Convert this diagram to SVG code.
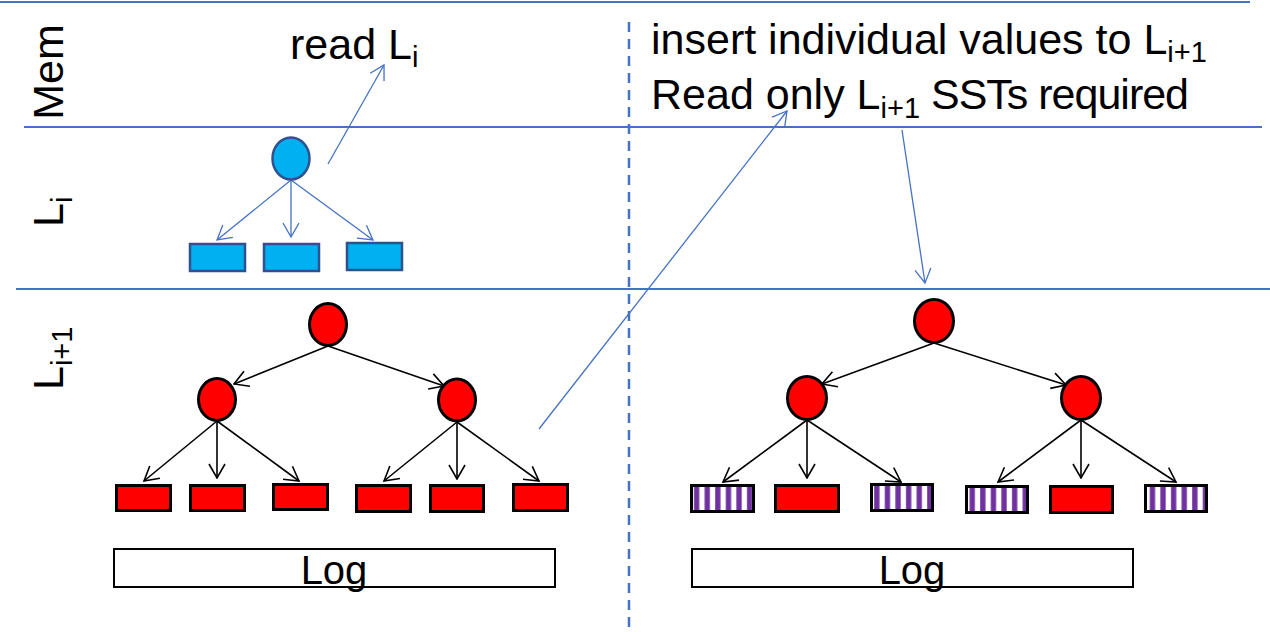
<svg xmlns="http://www.w3.org/2000/svg" width="1270" height="632" viewBox="0 0 1270 632">
  <style>
    .sep { stroke: #4472C4; stroke-width: 2.2; fill: none; }
    .dash { stroke: #4472C4; stroke-width: 2.5; stroke-dasharray: 10 7; fill: none; }
    .lbl { font-family: "Liberation Sans", Arial, sans-serif; font-size: 43px; fill: #000; }
    .txt { font-family: "Liberation Sans", Arial, sans-serif; font-size: 43px; fill: #000; }
    .log { font-family: "Liberation Sans", Arial, sans-serif; font-size: 40px; fill: #000; text-anchor: middle; }
    .blueNode { fill: #00B0F0; stroke: #2F528F; stroke-width: 2.5; }
    .redNode { fill: #FF0000; stroke: #000; stroke-width: 3; }
    .stripeNode { fill: url(#stripes); stroke: #000; stroke-width: 3; }
    .logBox { fill: #fff; stroke: #000; stroke-width: 2; }
    .blueArrow { stroke: #4472C4; stroke-width: 1.3; fill: none; marker-end: url(#headBlue); }
    .blackArrow { stroke: #000; stroke-width: 1.6; fill: none; marker-end: url(#headBlack); }
  </style>
  <defs>
    <marker id="headBlue" viewBox="0 0 16 18" refX="15" refY="9" markerWidth="16" markerHeight="18" markerUnits="userSpaceOnUse" orient="auto">
      <path d="M1,1 L15,9 L1,17" fill="none" stroke="#4472C4" stroke-width="1.3"/>
    </marker>
    <marker id="headBlack" viewBox="0 0 16 18" refX="15" refY="9" markerWidth="16" markerHeight="18" markerUnits="userSpaceOnUse" orient="auto">
      <path d="M1,1 L15,9 L1,17" fill="none" stroke="#000" stroke-width="1.6"/>
    </marker>
    <pattern id="stripes" patternUnits="userSpaceOnUse" width="10.6" height="10">
      <rect x="0" y="0" width="10.6" height="10" fill="#fff"/>
      <rect x="5" y="0" width="5.3" height="10" fill="#7030A0"/>
    </pattern>
  </defs>

  <g id="separators">
    <line class="sep" x1="0" y1="2" x2="1250" y2="2"/>
    <line class="sep" x1="24" y1="127" x2="1262" y2="127"/>
    <line class="sep" x1="16" y1="289" x2="1270" y2="289"/>
    <line class="dash" x1="629" y1="22" x2="629" y2="632"/>
  </g>

  <g id="level-labels">
    <text class="lbl" text-anchor="middle" transform="translate(63,72) rotate(-90)">Mem</text>
    <text class="lbl" transform="translate(63,227) rotate(-90)">L<tspan dy="9" font-size="29">i</tspan></text>
    <text class="lbl" transform="translate(63,390) rotate(-90)">L<tspan dy="9" font-size="29">i+1</tspan></text>
  </g>

  <g id="annotations">
    <text class="txt" x="290" y="59">read L<tspan dy="8" font-size="29">i</tspan></text>
    <text class="txt" x="651" y="54">insert individual values to L<tspan dy="8" font-size="29">i+1</tspan></text>
    <text class="txt" x="651" y="109">Read only L<tspan dy="9" font-size="29">i+1</tspan><tspan dy="-9" letter-spacing="-1"> SSTs required</tspan></text>
  </g>

  <g id="connectors">
    <line class="blueArrow" x1="291" y1="180" x2="217" y2="240"/>
    <line class="blueArrow" x1="291" y1="180" x2="291" y2="237"/>
    <line class="blueArrow" x1="291" y1="180" x2="373" y2="240"/>
    <line class="blueArrow" x1="328" y1="164" x2="384" y2="65"/>
    <line class="blueArrow" x1="539" y1="429" x2="787" y2="111"/>
    <line class="blueArrow" x1="902" y1="130" x2="925" y2="283"/>
    <line class="blackArrow" x1="328" y1="346" x2="234" y2="384"/>
    <line class="blackArrow" x1="328" y1="346" x2="444" y2="386"/>
    <line class="blackArrow" x1="217" y1="421" x2="144" y2="481"/>
    <line class="blackArrow" x1="217" y1="421" x2="217" y2="478"/>
    <line class="blackArrow" x1="217" y1="421" x2="299" y2="481"/>
    <line class="blackArrow" x1="457" y1="422" x2="384" y2="481"/>
    <line class="blackArrow" x1="457" y1="422" x2="457" y2="479"/>
    <line class="blackArrow" x1="457" y1="422" x2="539" y2="481"/>
    <line class="blackArrow" x1="934" y1="343" x2="822" y2="384"/>
    <line class="blackArrow" x1="934" y1="343" x2="1066" y2="385"/>
    <line class="blackArrow" x1="807" y1="420" x2="723" y2="482"/>
    <line class="blackArrow" x1="807" y1="420" x2="807" y2="478"/>
    <line class="blackArrow" x1="807" y1="420" x2="901" y2="482"/>
    <line class="blackArrow" x1="1081" y1="420" x2="998" y2="482"/>
    <line class="blackArrow" x1="1081" y1="420" x2="1081" y2="478"/>
    <line class="blackArrow" x1="1081" y1="420" x2="1176" y2="482"/>
  </g>

  <g id="li-root"><ellipse class="blueNode" cx="291" cy="158.5" rx="18.5" ry="21"/></g>
  <g id="li-leaf-1"><rect class="blueNode" x="190" y="244" width="55" height="27"/></g>
  <g id="li-leaf-2"><rect class="blueNode" x="264" y="244" width="55" height="27"/></g>
  <g id="li-leaf-3"><rect class="blueNode" x="347" y="243" width="55" height="27"/></g>

  <g id="l-root"><ellipse class="redNode" cx="328" cy="324.5" rx="18.5" ry="21"/></g>
  <g id="l-child-1"><ellipse class="redNode" cx="217" cy="399.5" rx="18.5" ry="21"/></g>
  <g id="l-child-2"><ellipse class="redNode" cx="457" cy="400" rx="18.5" ry="21"/></g>
  <g id="l-leaf-1"><rect class="redNode" x="116.5" y="485.5" width="54" height="25"/></g>
  <g id="l-leaf-2"><rect class="redNode" x="190.5" y="485.5" width="54" height="25"/></g>
  <g id="l-leaf-3"><rect class="redNode" x="273.5" y="484.5" width="54" height="25"/></g>
  <g id="l-leaf-4"><rect class="redNode" x="356.5" y="485.5" width="54" height="26"/></g>
  <g id="l-leaf-5"><rect class="redNode" x="430.5" y="485.5" width="53" height="26"/></g>
  <g id="l-leaf-6"><rect class="redNode" x="513.5" y="484.5" width="54" height="26"/></g>
  <g id="l-log">
    <rect class="logBox" x="114" y="549" width="441" height="38"/>
    <text class="log" x="334" y="584">Log</text>
  </g>

  <g id="r-root"><ellipse class="redNode" cx="934" cy="321" rx="19.5" ry="21.5"/></g>
  <g id="r-child-1"><ellipse class="redNode" cx="807" cy="398" rx="19.5" ry="21.5"/></g>
  <g id="r-child-2"><ellipse class="redNode" cx="1081" cy="398" rx="19.5" ry="21.5"/></g>
  <g id="r-leaf-1"><rect class="stripeNode" x="691.5" y="485.5" width="62" height="26"/></g>
  <g id="r-leaf-2"><rect class="redNode" x="775.5" y="485.5" width="63" height="26"/></g>
  <g id="r-leaf-3"><rect class="stripeNode" x="871.5" y="484.5" width="61" height="26"/></g>
  <g id="r-leaf-4"><rect class="stripeNode" x="966.5" y="486.5" width="61" height="26"/></g>
  <g id="r-leaf-5"><rect class="redNode" x="1050.5" y="486.5" width="62" height="26"/></g>
  <g id="r-leaf-6"><rect class="stripeNode" x="1145.5" y="485.5" width="61" height="26"/></g>
  <g id="r-log">
    <rect class="logBox" x="692" y="549" width="441" height="38"/>
    <text class="log" x="912" y="584">Log</text>
  </g>
</svg>
